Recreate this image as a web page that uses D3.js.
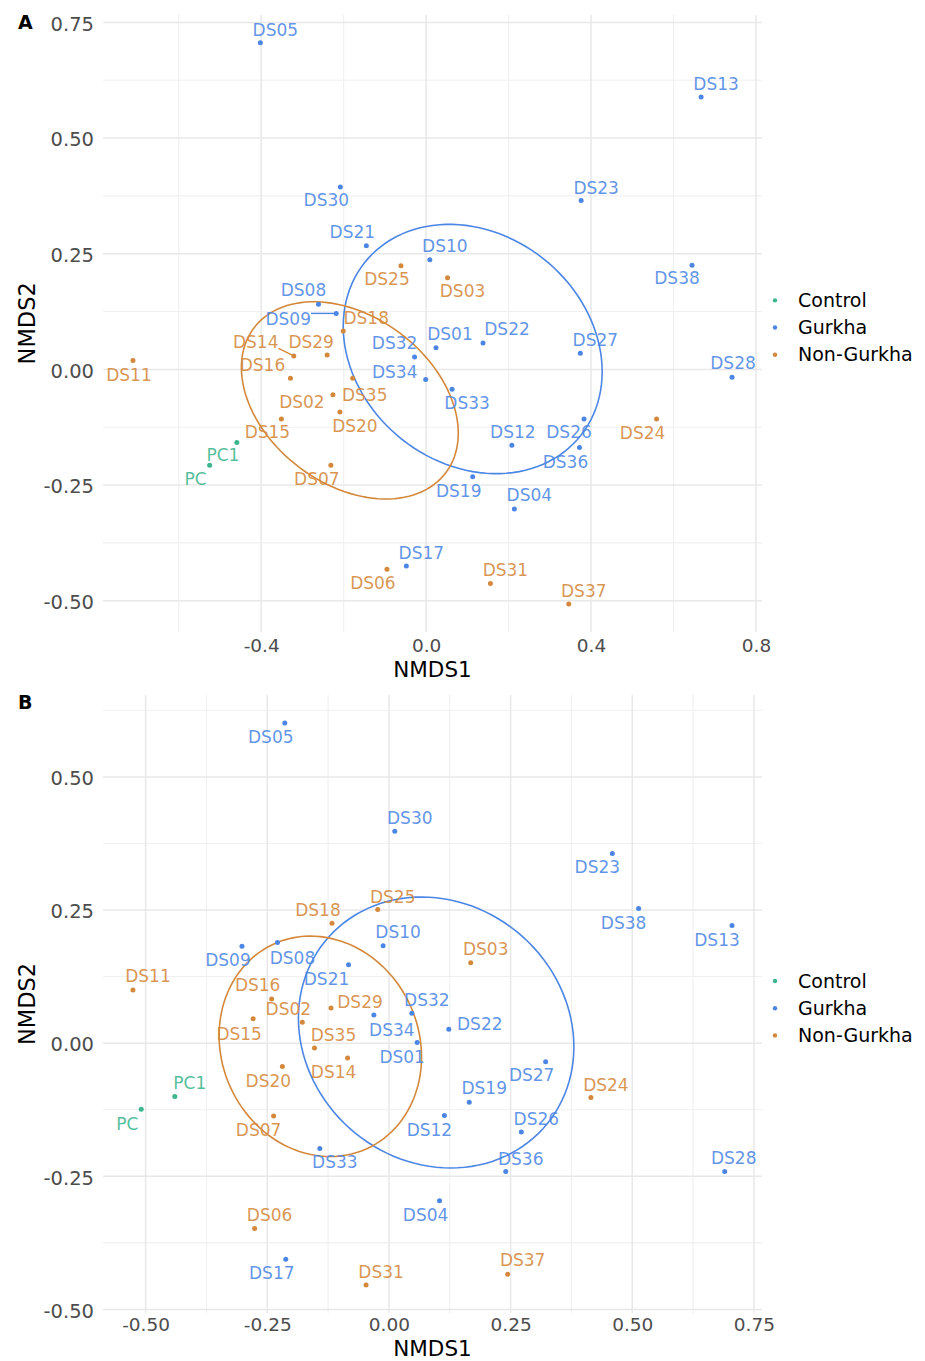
<!DOCTYPE html>
<html>
<head>
<meta charset="utf-8">
<script src="https://cdn.jsdelivr.net/npm/d3@7"></script>
<style>
  body { margin: 0; background: #fff; }
  svg { display: block; font-family: "DejaVu Sans", sans-serif; }
</style>
</head>
<body>
<svg id="chart" width="925" height="1361"></svg>
<script>
// groups and colours
const groups = ["Control", "Gurkha", "Non-Gurkha"];
const groupColors = ["#3db58d", "#4c86e5", "#d4883b"];

const samples = ["PC", "PC1",
  "DS01", "DS02", "DS03", "DS04", "DS05", "DS06", "DS07", "DS08", "DS09", "DS10",
  "DS11", "DS12", "DS13", "DS14", "DS15", "DS16", "DS17", "DS18", "DS19", "DS20",
  "DS21", "DS22", "DS23", "DS24", "DS25", "DS26", "DS27", "DS28", "DS29", "DS30",
  "DS31", "DS32", "DS33", "DS34", "DS35", "DS36", "DS37", "DS38"];
const controlSamples = ["PC", "PC1"];
const gurkhaSamples = ["DS01", "DS04", "DS05", "DS08", "DS09", "DS10", "DS12", "DS13", "DS17",
  "DS19", "DS21", "DS22", "DS23", "DS26", "DS27", "DS28", "DS30", "DS32", "DS33", "DS34",
  "DS36", "DS38"];

// panel A scores
const nmds1A = [-0.525, -0.459,
  0.024, -0.226, 0.052, 0.214, -0.402, -0.095, -0.231, -0.261, -0.218, 0.009,
  -0.711, 0.208, 0.667, -0.321, -0.351, -0.329, -0.048, -0.201, 0.113, -0.209,
  -0.145, 0.138, 0.376, 0.559, -0.061, 0.383, 0.374, 0.742, -0.240, -0.208,
  0.156, -0.028, 0.063, -0.001, -0.178, 0.372, 0.346, 0.645];
const nmds2A = [-0.207, -0.158,
  0.047, -0.055, 0.198, -0.302, 0.706, -0.432, -0.207, 0.141, 0.121, 0.237,
  0.019, -0.164, 0.589, 0.029, -0.107, -0.019, -0.425, 0.083, -0.232, -0.092,
  0.267, 0.057, 0.365, -0.107, 0.224, -0.107, 0.035, -0.017, 0.031, 0.394,
  -0.463, 0.027, -0.043, -0.022, -0.019, -0.169, -0.507, 0.225];

// panel B scores
const nmds1B = [-0.509, -0.440,
  0.058, -0.178, 0.168, 0.104, -0.214, -0.276, -0.237, -0.229, -0.302, -0.012,
  -0.526, 0.114, 0.705, -0.085, -0.279, -0.241, -0.212, -0.117, 0.165, -0.219,
  -0.083, 0.123, 0.459, 0.415, -0.023, 0.272, 0.322, 0.690, -0.119, 0.012,
  -0.047, 0.047, -0.142, -0.031, -0.153, 0.240, 0.244, 0.513];
const nmds2B = [-0.124, -0.100,
  0.001, 0.039, 0.151, -0.296, 0.601, -0.348, -0.137, 0.189, 0.182, 0.183,
  0.100, -0.136, 0.221, -0.028, 0.046, 0.083, -0.406, 0.225, -0.111, -0.044,
  0.147, 0.026, 0.356, -0.102, 0.251, -0.167, -0.035, -0.241, 0.066, 0.398,
  -0.454, 0.056, -0.198, 0.053, -0.009, -0.241, -0.434, 0.253];

// ellipses: centre x, centre y, semi-axis u (x, y), vertical semi-axis v
const ellipseGroups = ["Gurkha", "Non-Gurkha"];
const ellipseA = [[0.113, 0.044, 0.314, -0.049, 0.265], [-0.185, -0.067, 0.263, -0.071, 0.201]];
const ellipseB = [[0.097, 0.020, 0.283, -0.027, 0.253], [-0.141, -0.006, 0.208, -0.020, 0.206]];

// tick labels
const xTicksA = [-0.4, 0, 0.4, 0.8];
const yTicksA = [-0.5, -0.25, 0, 0.25, 0.5, 0.75];
const xTicksB = [-0.5, -0.25, 0, 0.25, 0.5, 0.75];
const yTicksB = [-0.5, -0.25, 0, 0.25, 0.5];

// label placement (pixel nudges from the point, like ggrepel output)
const nudgeA = [[-14, 14], [-14, 12],
  [14, -14], [-31, 7], [15, 13], [15, -14], [15, -13], [-14, 14], [-14, 14], [-15, -14], [-48, 5], [15, -14],
  [-4, 14], [1, -13], [15, -13], [-38, -14], [-14, 13], [-28, -13], [15, -13], [23, -13], [-14, 14], [15, 14],
  [-14, -14], [24, -14], [15, -13], [-14, 14], [-14, 13], [-15, 13], [15, -13], [1, -14], [-16, -13], [-14, 13],
  [15, -14], [-20, -14], [15, 14], [-31, -8], [12, 17], [-14, 14], [15, -13], [-15, 13]];
const nudgeB = [[-14, 15], [15, -14],
  [-15, 14], [-14, -13], [15, -14], [-14, 14], [-14, 14], [15, -14], [-15, 14], [15, 15], [-14, 14], [15, -14],
  [15, -14], [-15, 14], [-15, 14], [-14, 14], [-14, 15], [-14, -14], [-14, 14], [-14, -13], [15, -14], [-14, 14],
  [-22, 14], [31, -5], [-15, 13], [15, -13], [15, -13], [15, -13], [-14, 13], [9, -14], [29, -6], [15, -13],
  [15, -13], [15, -13], [15, 13], [18, 15], [19, -13], [15, -13], [15, -14], [-15, 14]];

const groupOf = s => controlSamples.includes(s) ? "Control"
  : gurkhaSamples.includes(s) ? "Gurkha" : "Non-Gurkha";
const color = d3.scaleOrdinal().domain(groups).range(groupColors);

const svg = d3.select("#chart");

function padded(vals) {
  const [lo, hi] = d3.extent(vals);
  const p = (hi - lo) * 0.05;
  return [lo - p, hi + p];
}

function minorTicks(ticks, domain) {
  const step = ticks[1] - ticks[0];
  const out = [];
  for (let m = ticks[0] - step / 2; m < domain[1]; m += step) {
    if (m > domain[0]) out.push(m);
  }
  return out;
}

// plain hyphen for negatives, as in the original figure
const fmt = spec => {
  const f = d3.format(spec);
  return d => f(d).replace("\u2212", "-");
};

function drawPanel(cfg) {
  const left = 103, right = 762;
  const top = cfg.top, bottom = cfg.bottom;

  const xd = padded(cfg.xs), yd = padded(cfg.ys);
  const x = d3.scaleLinear().domain(xd).range([left, right]);
  const y = d3.scaleLinear().domain(yd).range([bottom, top]);

  const g = svg.append("g");

  // grid
  const grid = g.append("g");
  grid.selectAll("line.vmin").data(minorTicks(cfg.xTicks, xd)).enter().append("line")
    .attr("x1", d => x(d)).attr("x2", d => x(d)).attr("y1", top).attr("y2", bottom)
    .attr("stroke", "#f0f0f0").attr("stroke-width", 1.1);
  grid.selectAll("line.hmin").data(minorTicks(cfg.yTicks, yd)).enter().append("line")
    .attr("y1", d => y(d)).attr("y2", d => y(d)).attr("x1", left).attr("x2", right)
    .attr("stroke", "#f0f0f0").attr("stroke-width", 1.1);
  grid.selectAll("line.vmaj").data(cfg.xTicks).enter().append("line")
    .attr("x1", d => x(d)).attr("x2", d => x(d)).attr("y1", top).attr("y2", bottom)
    .attr("stroke", "#e8e8e8").attr("stroke-width", 1.5);
  grid.selectAll("line.hmaj").data(cfg.yTicks).enter().append("line")
    .attr("y1", d => y(d)).attr("y2", d => y(d)).attr("x1", left).attr("x2", right)
    .attr("stroke", "#e8e8e8").attr("stroke-width", 1.5);

  // axes (labels only)
  const xa = g.append("g").attr("transform", `translate(0,${bottom})`)
    .call(d3.axisBottom(x).tickValues(cfg.xTicks).tickFormat(cfg.xFmt).tickSize(0).tickPadding(cfg.tickPad));
  const ya = g.append("g").attr("transform", `translate(${left},0)`)
    .call(d3.axisLeft(y).tickValues(cfg.yTicks).tickFormat(cfg.yFmt).tickSize(0).tickPadding(9));
  [xa, ya].forEach(a => {
    a.select(".domain").remove();
    a.selectAll("text").attr("font-family", "DejaVu Sans").attr("fill", "#4d4d4d");
  });
  xa.selectAll("text").attr("font-size", 18.5);
  ya.selectAll("text").attr("font-size", 19.5).attr("dy", "0.4em");

  g.append("text").attr("x", (left + right) / 2).attr("y", bottom + cfg.titleOff)
    .attr("text-anchor", "middle").attr("font-size", 21.5).attr("fill", "#000").text("NMDS1");
  g.append("text").attr("transform", `translate(35,${(top + bottom) / 2}) rotate(-90)`)
    .attr("text-anchor", "middle").attr("font-size", 22.5).attr("fill", "#000").text("NMDS2");
  g.append("text").attr("x", 18).attr("y", cfg.letterY).attr("font-size", 19).attr("font-weight", "bold")
    .attr("fill", "#000").text(cfg.letter);

  // ellipses
  const line = d3.line().curve(d3.curveLinearClosed);
  cfg.ellipses.forEach((e, i) => {
    const [cx, cy, ux, uy, v] = e;
    const pts = d3.range(120).map(k => {
      const t = k / 120 * 2 * Math.PI;
      return [x(cx + ux * Math.cos(t)), y(cy + uy * Math.cos(t) + v * Math.sin(t))];
    });
    g.append("path").attr("d", line(pts)).attr("fill", "none")
      .attr("stroke", color(ellipseGroups[i])).attr("stroke-width", 1.6);
  });

  const data = samples.map((s, i) => ({
    name: s, group: groupOf(s), x: cfg.xs[i], y: cfg.ys[i], nudge: cfg.nudge[i]
  }));

  // labels + segments
  const lab = g.append("g");
  data.forEach(d => {
    const px = x(d.x), py = y(d.y);
    const tx = px + d.nudge[0], ty = py + d.nudge[1];
    const t = lab.append("text").attr("x", tx).attr("y", ty).attr("dy", "0.36em")
      .attr("text-anchor", "middle").attr("font-size", 17).attr("fill", color(d.group))
      .attr("fill-opacity", 0.88).text(d.name);
    const hw = t.node().getComputedTextLength() / 2, hh = 6.3;
    const nx = Math.max(tx - hw, Math.min(px, tx + hw));
    const ny = Math.max(ty - hh, Math.min(py, ty + hh));
    if (Math.hypot(px - nx, py - ny) > 12) {
      lab.append("line").attr("x1", nx).attr("y1", ny).attr("x2", px).attr("y2", py)
        .attr("stroke", color(d.group)).attr("stroke-width", 1.4);
    }
  });

  // points
  g.append("g").selectAll("circle").data(data).enter().append("circle")
    .attr("cx", d => x(d.x)).attr("cy", d => y(d.y)).attr("r", 2.5)
    .attr("fill", d => color(d.group));

  // legend
  const ly = (top + bottom) / 2 - 23;
  const leg = g.append("g");
  groups.forEach((grp, i) => {
    leg.append("circle").attr("cx", 775).attr("cy", ly + i * 27.2).attr("r", 2.2).attr("fill", color(grp));
    leg.append("text").attr("x", 798).attr("y", ly + i * 27.2).attr("dy", "0.35em")
      .attr("font-size", 19).attr("fill", "#000").text(grp);
  });
}

drawPanel({
  top: 14.7, bottom: 632, xs: nmds1A, ys: nmds2A, xTicks: xTicksA, yTicks: yTicksA,
  xFmt: fmt(".1f"), yFmt: fmt(".2f"), ellipses: ellipseA, nudge: nudgeA,
  letter: "A", letterY: 29, tickPad: 7, titleOff: 44.7
});
drawPanel({
  top: 695, bottom: 1313, xs: nmds1B, ys: nmds2B, xTicks: xTicksB, yTicks: yTicksB,
  xFmt: fmt(".2f"), yFmt: fmt(".2f"), ellipses: ellipseB, nudge: nudgeB,
  letter: "B", letterY: 709, tickPad: 5, titleOff: 42.8
});
</script>
</body>
</html>
